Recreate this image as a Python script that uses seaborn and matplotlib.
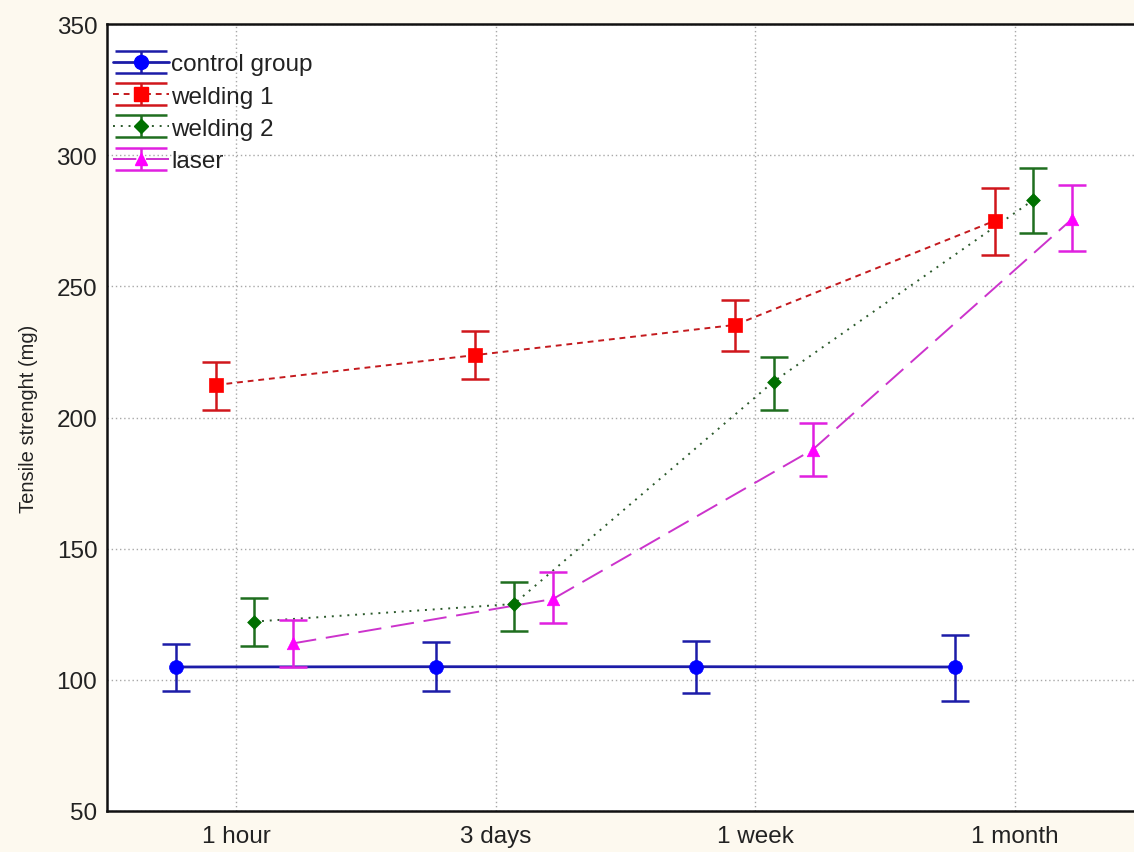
import numpy as np
import pandas as pd
import matplotlib
matplotlib.use("Agg")
import matplotlib.pyplot as plt
from matplotlib.container import ErrorbarContainer
from matplotlib.legend_handler import HandlerErrorbar
import seaborn as sns

# ---- data ----
categories = ["1 hour", "3 days", "1 week", "1 month"]
series_names = ["control group", "welding 1", "welding 2", "laser"]

control_mean = [104.9, 105.0, 105.0, 104.9]
control_low = [95.6, 95.6, 94.9, 92.0]
control_high = [113.7, 114.3, 114.9, 117.2]

welding1_mean = [212.4, 223.8, 235.3, 275.0]
welding1_low = [203.0, 214.7, 225.5, 262.1]
welding1_high = [221.0, 233.1, 244.8, 287.4]

welding2_mean = [122.2, 128.9, 213.7, 282.9]
welding2_low = [113.0, 118.7, 203.0, 270.2]
welding2_high = [131.1, 137.4, 222.9, 295.1]

laser_mean = [113.9, 130.8, 187.7, 275.7]
laser_low = [105.0, 121.5, 177.8, 263.6]
laser_high = [122.8, 141.0, 197.9, 288.7]

y_ticks = [50, 100, 150, 200, 250, 300, 350]

means = [control_mean, welding1_mean, welding2_mean, laser_mean]
lows = [control_low, welding1_low, welding2_low, laser_low]
highs = [control_high, welding1_high, welding2_high, laser_high]

# ---- styles ----
offsets = [-0.23, -0.078, 0.07, 0.22]
line_colors = ["#1c1ca8", "#c41a1e", "#2c5a2c", "#cc33cc"]
err_colors = ["#1c1ca8", "#d0161c", "#1f6e1f", "#e020e0"]
marker_colors = ["#0000ff", "#ff0000", "#007000", "#ff00ff"]
markers = ["o", "s", "D", "^"]
msizes = [10, 10, 7, 9]
linestyles = ["-", (0, (3, 2.5)), (0, (1, 3)), (0, (12, 5))]
linewidths = [2.0, 1.4, 1.4, 1.4]

bg = "#fdf9ef"
sns.set_theme(style="white")
plt.rcParams["font.family"] = ["Liberation Sans", "DejaVu Sans"]

fig = plt.figure(figsize=(11.34, 8.53), dpi=100, facecolor=bg)
ax = fig.add_axes([107 / 1134, 41 / 853, 1 - 107 / 1134, (812 - 25) / 853])
ax.set_facecolor("white")

cat_idx = np.arange(len(categories))
handles = []
for i, name in enumerate(series_names):
    x = cat_idx + offsets[i]
    y = np.array(means[i])
    lo = y - np.array(lows[i])
    hi = np.array(highs[i]) - y
    df = pd.DataFrame({"x": x, "y": y})
    sns.lineplot(data=df, x="x", y="y", ax=ax, color=line_colors[i],
                 linestyle=linestyles[i], linewidth=linewidths[i],
                 marker=None, legend=False, zorder=2)
    ax.errorbar(x, y, yerr=[lo, hi], fmt="none", ecolor=err_colors[i],
                elinewidth=1.8, capsize=10, capthick=1.8, zorder=3)
    sns.scatterplot(data=df, x="x", y="y", ax=ax, color=marker_colors[i],
                    marker=markers[i], s=msizes[i] ** 2, edgecolor=marker_colors[i],
                    linewidth=0.5, legend=False, zorder=4)
    h = ax.errorbar([np.nan], [np.nan], yerr=[[np.nan], [np.nan]],
                    fmt=markers[i], linestyle=linestyles[i], color=line_colors[i],
                    ecolor=err_colors[i], elinewidth=1.8, capsize=19, capthick=1.8,
                    markerfacecolor=marker_colors[i], markeredgecolor=marker_colors[i],
                    markersize=msizes[i], linewidth=linewidths[i], label=name)
    handles.append(h)

ax.set_xlim(-0.497, 3.458)
ax.set_ylim(50, 350)
ax.set_xticks(cat_idx)
ax.set_xticklabels(categories)
ax.set_yticks(y_ticks)
ax.set_xlabel("")
ax.set_ylabel("Tensile strenght (mg)", fontsize=14.5, color="#222222", labelpad=13)

ax.tick_params(axis="both", direction="in", length=7, width=1.2, colors="#111111",
               labelsize=17.5, labelcolor="#222222")
ax.tick_params(axis="y", pad=7)
ax.tick_params(axis="x", pad=10)
ax.grid(True, linestyle=(0, (1, 2)), color="#a8a8a8", linewidth=1.0)
ax.set_axisbelow(True)

for s in ["left", "bottom", "top"]:
    ax.spines[s].set_visible(True)
    ax.spines[s].set_color("#111111")
    ax.spines[s].set_linewidth(1.8)
ax.spines["right"].set_visible(False)

leg = ax.legend(handles=handles, labels=series_names, loc="upper left",
                bbox_to_anchor=(-0.004, 0.975), frameon=False, fontsize=17.5,
                handlelength=2.3, handletextpad=0.1, labelspacing=0.42,
                borderaxespad=0.0,
                handler_map={ErrorbarContainer: HandlerErrorbar(yerr_size=0.45)})
for t in leg.get_texts():
    t.set_color("#222222")

fig.savefig("out.png", dpi=100, facecolor=bg)
